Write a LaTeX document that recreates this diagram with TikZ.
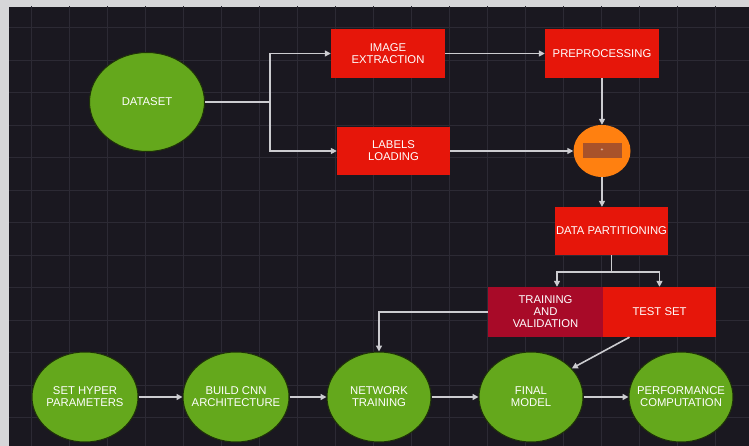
\documentclass[tikz,border=0pt]{standalone}
\usepackage{fontspec}
\setmainfont{Liberation Sans}
\usetikzlibrary{arrows.meta,shapes.geometric}
\definecolor{boardbg}{RGB}{26,24,32}
\definecolor{gridline}{RGB}{44,42,52}
\definecolor{framegray}{RGB}{214,214,216}
\definecolor{nodegreen}{RGB}{100,168,28}
\definecolor{nodered}{RGB}{230,22,10}
\definecolor{nodecrimson}{RGB}{168,10,40}
\definecolor{nodeorange}{RGB}{255,128,16}
\definecolor{nodebrown}{RGB}{168,82,42}
\definecolor{linkgray}{RGB}{204,204,208}

\begin{document}
\begin{tikzpicture}[x=1pt,y=-1pt]
\tikzstyle{every node}+=[text=white,align=center,font=\fontsize{11.3}{12}\selectfont]
\tikzstyle{oval}=[ellipse,fill=nodegreen,draw=black!70!nodegreen,line width=1pt,inner sep=0pt]
\tikzstyle{stepbox}=[rectangle,fill=nodered,inner sep=0pt]
\tikzstyle{link}=[linkgray,line width=1.6pt]
\tikzstyle{conn}=[link,-{Triangle[length=6pt,width=6pt]}]
\useasboundingbox (0,0) rectangle (749,446);
\fill [framegray] (0,0) rectangle (749,446);
\fill [boardbg] (9,7) rectangle (749,446);
\begin{scope}
\clip (9,7) rectangle (749,446);
\draw [gridline,line width=0.5pt,shift={(31,27.5)}] (-30,-30) grid [xstep=38pt,ystep=32.5pt] (730,430);
\end{scope}
\node [oval,minimum width=115pt,minimum height=99pt,label=center:{DATASET}] (dataset) at (147,102) {};
\node [stepbox,minimum width=114pt,minimum height=49pt] (image) at (388,53.5) {IMAGE\\EXTRACTION};
\node [stepbox,minimum width=114pt,minimum height=49pt] (prep) at (602,53.5) {PREPROCESSING};
\node [stepbox,minimum width=113pt,minimum height=48pt] (labels) at (393.5,151) {LABELS\\LOADING};
\node [ellipse,fill=nodeorange,minimum width=57pt,minimum height=52pt,inner sep=0pt] (merge) at (602,151) {};
\node [rectangle,fill=nodebrown,minimum width=39pt,minimum height=15pt,inner sep=0pt,font=\fontsize{5}{5}\selectfont] (mergebox) at (602,150.5) {+};
\node [stepbox,minimum width=113pt,minimum height=48pt] (partition) at (611.5,231) {DATA PARTITIONING};
\node [stepbox,fill=nodecrimson,minimum width=115pt,minimum height=50pt] (train) at (545.5,312) {TRAINING\\AND\\VALIDATION};
\node [stepbox,minimum width=113pt,minimum height=50pt] (test) at (659.5,312) {TEST SET};
\node [oval,minimum width=106pt,minimum height=90pt,label=center:{SET HYPER\\PARAMETERS}] (setparam) at (85,397) {};
\node [oval,minimum width=106pt,minimum height=90pt,label=center:{BUILD CNN\\ARCHITECTURE}] (build) at (236,397) {};
\node [oval,minimum width=104pt,minimum height=90pt,label=center:{NETWORK\\TRAINING}] (network) at (379,397) {};
\node [oval,minimum width=104pt,minimum height=90pt,label=center:{FINAL\\MODEL}] (final) at (531,397) {};
\node [oval,minimum width=104pt,minimum height=90pt,label=center:{PERFORMANCE\\COMPUTATION}] (perf) at (681,397) {};
\coordinate (split) at (270,102);
\draw [link] (dataset) -- (split);
\draw [conn] (split) |- (image);
\draw [conn] (split) |- (labels);
\draw [conn] (image) -- (prep);
\draw [conn] (prep) -- (merge);
\draw [conn] (labels) -- (merge);
\draw [conn] (merge.south) -- (merge.south |- partition.north);
\draw [link] (partition.south) -- ++(0,17) coordinate (fork);
\draw [conn] (fork) -| ([xshift=11.5pt]train.north);
\draw [conn] (fork) -| (test.north);
\draw [conn] (train.west) -| (network.north);
\draw [conn] (test.220) -- (final.35);
\draw [conn] (setparam) -- (build);
\draw [conn] (build) -- (network);
\draw [conn] (network) -- (final);
\draw [conn] (final) -- (perf);
\end{tikzpicture}
\end{document}
